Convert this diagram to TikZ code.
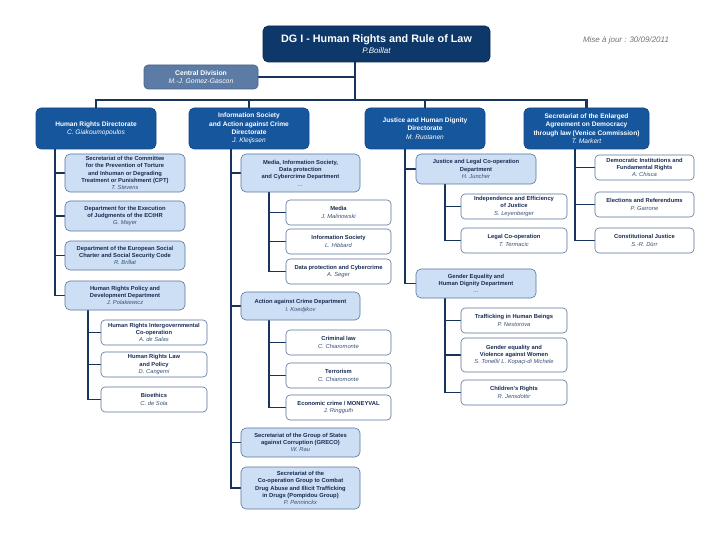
\documentclass[tikz,border=0pt]{standalone}
\usepackage{fontspec}
\setmainfont{Liberation Sans}
\usetikzlibrary{backgrounds}
\definecolor{dgblue}{RGB}{14,56,106}
\definecolor{dgborder}{RGB}{8,38,78}
\definecolor{cdgray}{RGB}{92,124,166}
\definecolor{dirblue}{RGB}{22,86,157}
\definecolor{lightbl}{RGB}{205,223,245}
\definecolor{bordgray}{RGB}{88,116,156}
\definecolor{navytext}{RGB}{24,44,82}
\definecolor{nametext}{RGB}{55,80,120}
\definecolor{linenavy}{RGB}{22,52,92}
\newcommand\nm[1]{{\mdseries\itshape\color{nametext}#1}}
\newcommand\wnm[1]{{\mdseries\itshape #1}}
\newcommand\mkbox[7]{\node[#1, minimum width={#5-#3}, minimum height={#6-#4}] (#2) at ({(#3+#5)/2},{(#4+#6)/2}) {#7};}
\tikzset{
  base/.style={inner sep=0pt, align=center, rounded corners=4pt, line width=0.6pt},
  dg/.style={base, fill=dgblue, draw=dgborder, text=white, rounded corners=5pt},
  central/.style={base, fill=cdgray, draw=cdgray!80!black, text=white, font=\fontsize{6.8}{8.4}\selectfont\bfseries},
  dir/.style={base, fill=dirblue, draw=dirblue!80!black, text=white, rounded corners=5pt, font=\fontsize{6.6}{8.3}\selectfont\bfseries},
  dept/.style={base, fill=lightbl, draw=bordgray, text=navytext, rounded corners=5pt, font=\fontsize{5.8}{7.3}\selectfont\bfseries},
  unit/.style={base, fill=white, draw=bordgray, text=navytext, font=\fontsize{5.8}{7.3}\selectfont\bfseries},
  bus/.style={draw=linenavy, line width=2.2pt},
  conn/.style={draw=linenavy, line width=1.6pt}
}
\begin{document}
\begin{tikzpicture}[x=1pt,y=-1pt]
\useasboundingbox (0,0) rectangle (720,540);
\coordinate (bus) at (355,100);
\coordinate (hrx) at (55,0);
\coordinate (hrpx) at (88,0);
\coordinate (isx) at (231,0);
\coordinate (midx) at (269,0);
\coordinate (jx) at (405,0);
\coordinate (jlcx) at (445,0);
\coordinate (vx) at (575,0);

\mkbox{dg}{dg}{263}{26}{490}{62}{{\fontsize{10.8}{12}\selectfont\bfseries DG I - Human Rights and Rule of Law}\\[-1pt]{\fontsize{8}{9.5}\selectfont\itshape P.Boillat}}
\mkbox{central}{cd}{144}{65}{258}{89}{Central Division\\ \wnm{M.-J. Gomez-Gascon}}
\node[font=\fontsize{8}{9}\selectfont\itshape, text=black!55] (maj) at (626,40) {Mise à jour : 30/09/2011};

\mkbox{dir}{hrd}{36}{108}{156}{149}{Human Rights Directorate\\ \wnm{C. Giakoumopoulos}}
\mkbox{dir}{isd}{189}{108}{309}{149}{Information Society\\and Action against Crime\\Directorate\\ \wnm{J. Kleijssen}}
\mkbox{dir}{jhd}{365}{108}{485}{149}{Justice and Human Dignity\\Directorate\\ \wnm{M. Ruotanen}}
\mkbox{dir}{vcd}{524}{108}{649}{149}{Secretariat of the Enlarged\\Agreement on Democracy\\through law (Venice Commission)\\ \wnm{T. Markert}}

% HR column
\mkbox{dept}{cpt}{65}{154}{185}{192}{Secretariat of the Committee\\for the Prevention of Torture\\and Inhuman or Degrading\\Treatment or Punishment (CPT)\\ \nm{T. Stevens}}
\mkbox{dept}{exe}{65}{201}{185}{231}{Department for the Execution\\of Judgments of the ECtHR\\ \nm{G. Mayer}}
\mkbox{dept}{esc}{65}{241}{185}{270}{Department of the European Social\\Charter and Social Security Code\\ \nm{R. Brillat}}
\mkbox{dept}{hrp}{65}{281}{185}{310}{Human Rights Policy and\\Development Department\\ \nm{J. Polakiewicz}}
\mkbox{unit}{hri}{101}{320}{207}{345}{Human Rights Intergovernmental\\Co-operation\\ \nm{A. de Salas}}
\mkbox{unit}{hrl}{101}{352}{207}{377}{Human Rights Law\\and Policy\\ \nm{D. Cangemi}}
\mkbox{unit}{bio}{101}{387}{207}{412}{Bioethics\\ \nm{C. de Sola}}

% IS column
\mkbox{dept}{mid}{241}{154}{360}{192}{Media, Information Society,\\Data protection\\and Cybercrime Department\\ \nm{...}}
\mkbox{unit}{med}{286}{200}{391}{225}{Media\\ \nm{J. Malinowski}}
\mkbox{unit}{ins}{286}{229}{391}{254}{Information Society\\ \nm{L. Hibbard}}
\mkbox{unit}{dpc}{286}{259}{391}{284}{Data protection and Cybercrime\\ \nm{A. Seger}}
\mkbox{dept}{acd}{241}{292}{360}{320}{Action against Crime Department\\ \nm{I. Koedjikov}}
\mkbox{unit}{crl}{286}{330}{391}{355}{Criminal law\\ \nm{C. Chiaromonte}}
\mkbox{unit}{ter}{286}{363}{391}{388}{Terrorism\\ \nm{C. Chiaromonte}}
\mkbox{unit}{eco}{286}{395}{391}{420}{Economic crime / MONEYVAL\\ \nm{J. Ringguth}}
\mkbox{dept}{grc}{241}{428}{360}{457}{Secretariat of the Group of States\\against Corruption (GRECO)\\ \nm{W. Rau}}
\mkbox{dept}{pmp}{241}{467}{360}{509}{Secretariat of the\\Co-operation Group to Combat\\Drug Abuse and Illicit Trafficking\\in Drugs (Pompidou Group)\\ \nm{P. Penninckx}}

% Justice column
\mkbox{dept}{jlc}{416}{154}{536}{184}{Justice and Legal Co-operation\\Department\\ \nm{H. Juncher}}
\mkbox{unit}{iej}{461}{194}{567}{219}{Independence and Efficiency\\of Justice\\ \nm{S. Leyenberger}}
\mkbox{unit}{lco}{461}{228}{567}{253}{Legal Co-operation\\ \nm{T. Termacic}}
\mkbox{dept}{ged}{416}{269}{536}{298}{Gender Equality and\\Human Dignity Department\\ \nm{...}}
\mkbox{unit}{thb}{461}{308}{567}{333}{Trafficking in Human Beings\\ \nm{P. Nestorova}}
\mkbox{unit}{gev}{461}{338}{567}{372}{Gender equality and\\Violence against Women\\ \nm{S. Tonelli/ L. Kopaçi-di Michele}}
\mkbox{unit}{chr}{461}{380}{567}{405}{Children's Rights\\ \nm{R. Jensdottir}}

% Venice column
\mkbox{unit}{dif}{595}{155}{694}{180}{Democratic Institutions and\\Fundamental Rights\\ \nm{A. Chisca}}
\mkbox{unit}{ere}{595}{192}{694}{217}{Elections and Referendums\\ \nm{P. Garrone}}
\mkbox{unit}{coj}{595}{228}{694}{253}{Constitutional Justice\\ \nm{S.-R. Dürr}}

\begin{scope}[on background layer]
\fill[white] (0,0) rectangle (720,540);
% bus lines
\draw[bus] (dg.south -| bus) -- (bus);
\draw[bus] (cd.east) -- (cd.east -| bus);
\draw[bus] (hrd.north) |- (vcd.north |- bus) -- (vcd.north);
\draw[bus] (isd.north) -- (isd.north |- bus);
\draw[bus] (jhd.north) -- (jhd.north |- bus);
% HR
\foreach \c in {cpt,exe,esc,hrp} \draw[conn] (hrd.south -| hrx) |- (\c.west);
\foreach \c in {hri,hrl,bio} \draw[conn] (hrp.south -| hrpx) |- (\c.west);
% IS
\foreach \c in {mid,acd,grc,pmp} \draw[conn] (isd.south -| isx) |- (\c.west);
\foreach \c in {med,ins,dpc} \draw[conn] (mid.south -| midx) |- (\c.west);
\foreach \c in {crl,ter,eco} \draw[conn] (acd.south -| midx) |- (\c.west);
% Justice
\foreach \c in {jlc,ged} \draw[conn] (jhd.south -| jx) |- (\c.west);
\foreach \c in {iej,lco} \draw[conn] (jlc.south -| jlcx) |- (\c.west);
\foreach \c in {thb,gev,chr} \draw[conn] (ged.south -| jlcx) |- (\c.west);
% Venice
\foreach \c in {dif,ere,coj} \draw[conn] (vcd.south -| vx) |- (\c.west);
\end{scope}
\end{tikzpicture}
\end{document}
